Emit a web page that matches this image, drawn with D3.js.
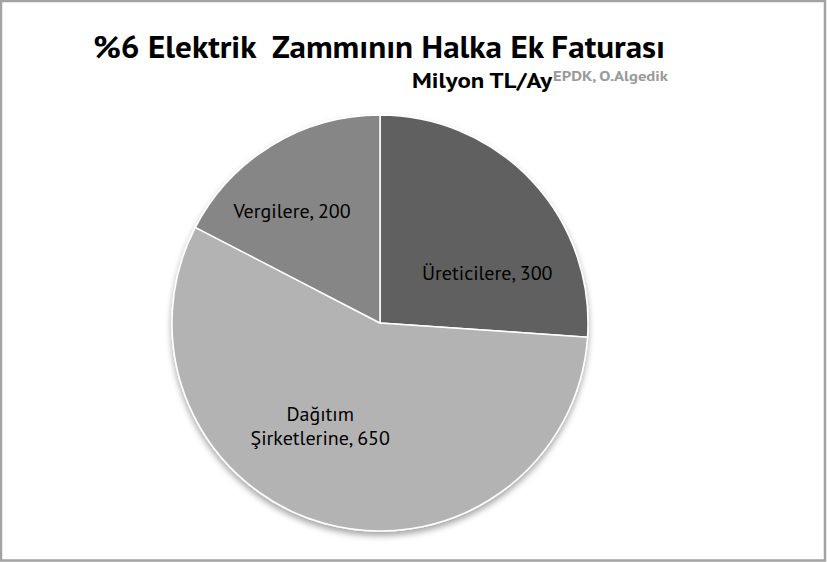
<html>
<head>
<script src="https://cdn.jsdelivr.net/npm/d3@7"></script>
<style>
  body { margin:0; background:#fff; }
  svg { display:block; }
  text { font-family: "PT Sans", Lato, "Noto Sans", sans-serif; white-space: pre; }
</style>
</head>
<body>
<svg id="svg" width="827" height="562"></svg>
<script>
// data
const categories = ["Üreticilere", "Dağıtım Şirketlerine", "Vergilere"];
const values = [300, 650, 200];
const labelLines = [["Üreticilere, 300"], ["Dağıtım", "Şirketlerine, 650"], ["Vergilere, 200"]];
const sliceColors = ["#616161", "#b3b3b3", "#868686"];

const title = "%6 Elektrik  Zammının Halka Ek Faturası";
const subtitle = "Milyon TL/Ay";
const source = "EPDK, O.Algedik";

// layout
const dims = { width: 827, height: 562 };
const center = { x: 380, y: 323 };
const radius = 208;
// label nudges from the centroid, excel style placement
const nudges = [[13, 38], [-25, -21], [-21, -2]];

const svg = d3.select("#svg");

// drop shadow under pie
const defs = svg.append("defs");
const f = defs.append("filter").attr("id", "shadow")
  .attr("x", "-10%").attr("y", "-10%").attr("width", "120%").attr("height", "125%");
f.append("feDropShadow").attr("dx", 0).attr("dy", 4).attr("stdDeviation", 3)
  .attr("flood-color", "#000").attr("flood-opacity", 0.35);

// frame
svg.append("rect")
  .attr("x", 1).attr("y", 1)
  .attr("width", dims.width - 3).attr("height", dims.height - 2.5)
  .attr("fill", "none").attr("stroke", "#a3a3a3").attr("stroke-width", 2.5);

const pie = d3.pie().sort(null).value(d => d)(values);
const arc = d3.arc().innerRadius(0).outerRadius(radius);
const labelArc = d3.arc().innerRadius(radius * 0.62).outerRadius(radius * 0.62);

const g = svg.append("g").attr("transform", `translate(${center.x},${center.y})`);

g.append("g").attr("filter", "url(#shadow)")
  .selectAll("path").data(pie).enter().append("path")
  .attr("d", arc)
  .attr("fill", (d, i) => sliceColors[i])
  .attr("stroke", "#fff")
  .attr("stroke-width", 1.5)
  .attr("stroke-linejoin", "round");

const labels = g.selectAll("text.lbl").data(pie).enter().append("text")
  .attr("class", "lbl")
  .attr("text-anchor", "middle")
  .attr("font-size", 20)
  .attr("fill", "#000")
  .attr("transform", (d, i) => {
    const c = labelArc.centroid(d);
    return `translate(${c[0] + nudges[i][0]},${c[1] + nudges[i][1]})`;
  });

labels.each(function(d, i) {
  const lines = labelLines[i];
  const t = d3.select(this);
  lines.forEach((ln, j) => {
    t.append("tspan")
      .attr("x", 0)
      .attr("dy", j === 0 ? (7 - (lines.length - 1) * 12) : 24)
      .text(ln);
  });
});

// titles
svg.append("text")
  .attr("x", 93).attr("y", 58)
  .attr("font-size", 31).attr("font-weight", "bold")
  .attr("textLength", 572).attr("lengthAdjust", "spacingAndGlyphs")
  .text(title);

svg.append("text")
  .attr("x", 412).attr("y", 88)
  .attr("font-size", 22).attr("font-weight", "bold")
  .attr("textLength", 140).attr("lengthAdjust", "spacingAndGlyphs")
  .text(subtitle);

svg.append("text")
  .attr("x", 553).attr("y", 81)
  .attr("font-size", 14).attr("font-weight", "bold")
  .attr("fill", "#9a9a9a")
  .attr("textLength", 115).attr("lengthAdjust", "spacingAndGlyphs")
  .text(source);
</script>
</body>
</html>
